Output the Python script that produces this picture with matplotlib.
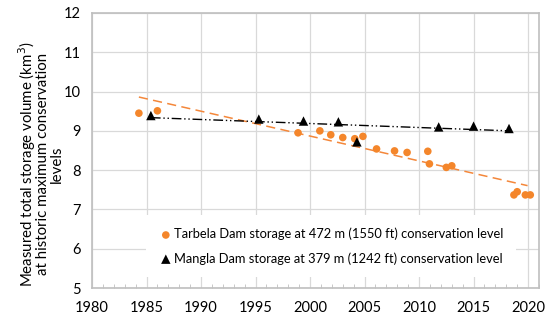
import matplotlib
matplotlib.use('Agg')
import matplotlib.pyplot as plt
import numpy as np
from matplotlib.ticker import MultipleLocator

plt.rcParams['font.family'] = ['Lato', 'DejaVu Sans']

tarbela_year = [1984.3, 1986.0, 1998.9, 2000.9, 2001.9, 2003.0, 2004.1, 2004.85,
                2006.1, 2007.75, 2008.9, 2010.8, 2010.95, 2012.5, 2013.0,
                2018.7, 2019.0, 2019.75, 2020.2]
tarbela_vol = [9.45, 9.51, 8.95, 9.00, 8.90, 8.83, 8.80, 8.86,
               8.54, 8.49, 8.45, 8.48, 8.16, 8.07, 8.11,
               7.37, 7.45, 7.37, 7.37]

mangla_year = [1985.4, 1995.3, 1999.4, 2002.6, 2004.3, 2011.8, 2015.0, 2018.25]
mangla_vol = [9.39, 9.30, 9.25, 9.23, 8.72, 9.10, 9.12, 9.06]

tarbela_label = 'Tarbela Dam storage at 472 m (1550 ft) conservation level'
mangla_label = 'Mangla Dam storage at 379 m (1242 ft) conservation level'

fig = plt.figure(figsize=(5.5, 3.22), dpi=100)
ax = fig.add_axes([92 / 550, 1 - 288 / 322, 447 / 550, 275 / 322])

# linear trend lines
tx = np.array([min(tarbela_year), max(tarbela_year) - 0.25])
tp = np.polyfit(tarbela_year, tarbela_vol, 1)
ax.plot(tx, np.polyval(tp, tx), color='#f4873a', linestyle=(0, (6, 3.5)), linewidth=1.1, zorder=2)

mx = np.array([min(mangla_year), max(mangla_year)])
mp = np.polyfit(mangla_year, mangla_vol, 1)
ax.plot(mx, np.polyval(mp, mx), color='black', linestyle=(0, (7, 2, 1, 2, 1, 2)), linewidth=1.0, zorder=2)

ax.scatter(tarbela_year, tarbela_vol, s=30, color='#f4862b', edgecolors='none', zorder=3, label=tarbela_label)
ax.scatter(mangla_year, mangla_vol, s=46, marker='^', color='black', edgecolors='none', zorder=4, label=mangla_label)

ax.set_xlim(1980, 2021)
ax.set_ylim(5, 12)
ax.xaxis.set_major_locator(MultipleLocator(5))
ax.xaxis.set_minor_locator(MultipleLocator(1))
ax.yaxis.set_major_locator(MultipleLocator(1))
ax.grid(True, which='major', color='#d9d9d9', linewidth=0.9)
ax.set_axisbelow(True)
for sp in ax.spines.values():
    sp.set_color('#bfbfbf')
    sp.set_linewidth(1.2)
ax.tick_params(axis='both', which='major', length=0, labelsize=10.5)
ax.tick_params(axis='x', which='major', pad=9)
ax.tick_params(axis='y', which='major', pad=8)
ax.tick_params(axis='x', which='minor', direction='in', length=3, color='#bfbfbf')
ax.tick_params(axis='y', which='minor', length=0)

ax.set_ylabel('Measured total storage volume (km$^3$)\nat historic maximum conservation\nlevels',
              fontsize=10.8, linespacing=0.9)
ax.yaxis.set_label_coords(-0.064, 0.45)

leg = ax.legend(loc='center', bbox_to_anchor=(0.535, 0.152), fontsize=9.3, frameon=True,
                facecolor='white', edgecolor='none', framealpha=1, handletextpad=0.1,
                handlelength=1.0, borderpad=1.0, labelspacing=0.9, scatterpoints=1)
leg.get_frame().set_boxstyle('square', pad=0.0)

fig.savefig('out.png', dpi=100)
